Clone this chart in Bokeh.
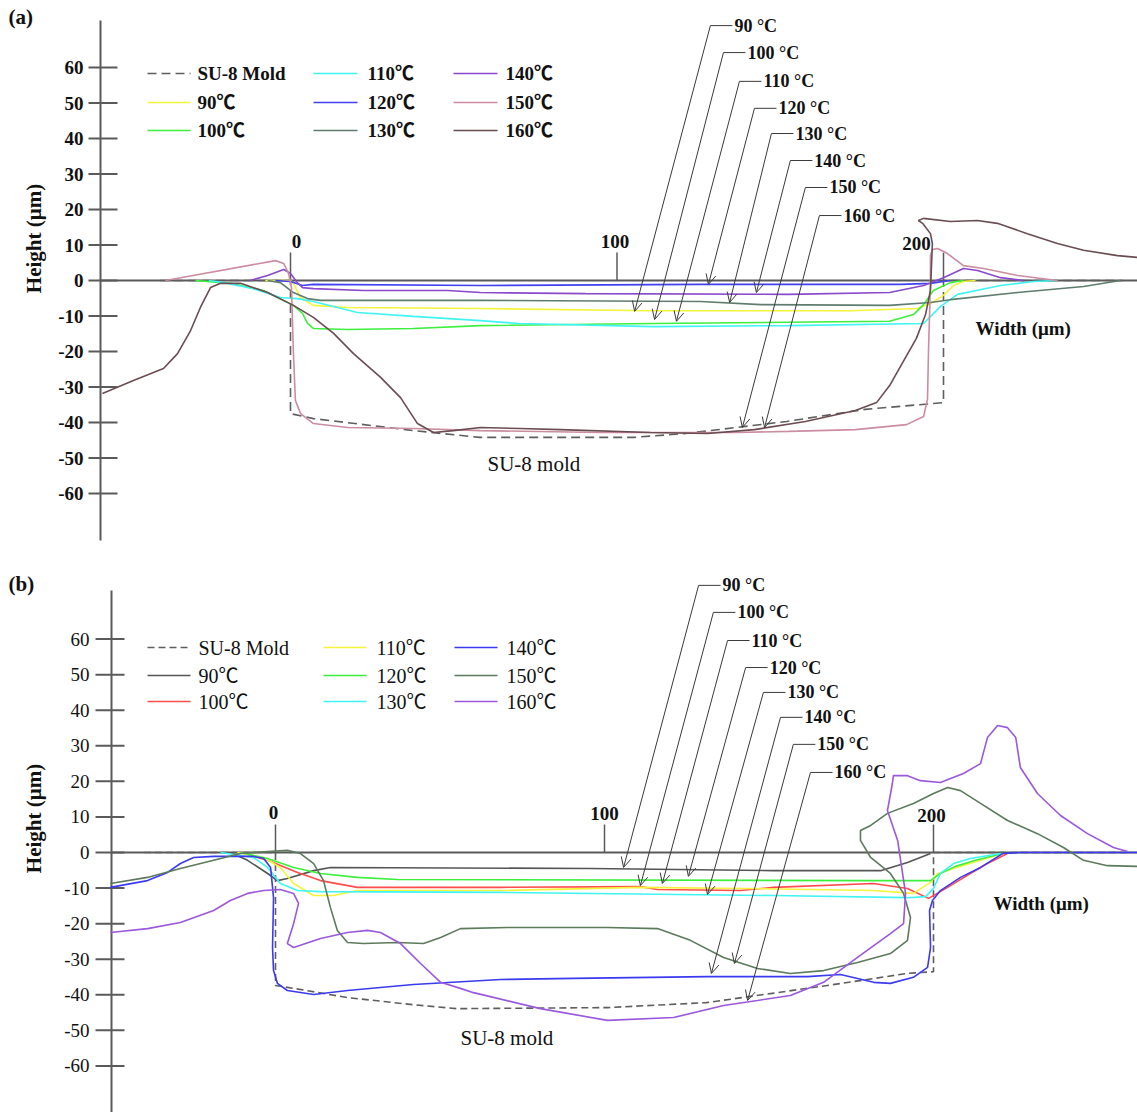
import math
from bokeh.plotting import figure
from bokeh.layouts import column
from bokeh.models import Arrow, OpenHead, ColumnDataSource, Range1d
from bokeh.core.properties import value
from bokeh.embed import file_html
from bokeh.resources import INLINE

# ---------------- DATA : panel (a) ----------------
TEMPS = ["90", "100", "110", "120", "130", "140", "150", "160"]
Y_TICKS = [60, 50, 40, 30, 20, 10, 0, -10, -20, -30, -40, -50, -60]
Y_TICK_LABELS = ["60", "50", "40", "30", "20", "10", "0", "-10", "-20", "-30", "-40", "-50", "-60"]
X_TICKS = [0, 100, 200]
X_TICK_LABELS = ["0", "100", "200"]

A_MOLD_X = [-40, 0, 0, 7, 38, 58, 105, 121, 152, 176, 200, 200, 255]
A_MOLD_Y = [0, 0, -37.5, -38.9, -42.3, -44.2, -44.2, -43.1, -39.7, -36.3, -34.4, 0, 0]

A_90_X = [-7.7, 0, 0.9, 3.1, 7.0, 17.5, 58.2, 110.3, 171.5, 192.0, 196.0, 200, 203.1, 206.1, 209.8]
A_90_Y = [0, 0, -0.8, -4.8, -7.0, -7.6, -7.9, -8.5, -8.5, -7.9, -6.5, -4.2, -1.4, -0.3, 0]

A_100_X = [-29.1, -18.4, -8.3, 0.9, 3.7, 5.2, 7.0, 17.5, 37.7, 58.2, 111.2, 183.5, 190.8, 193.9, 196.9, 202.1, 206.1]
A_100_Y = [0, -0.8, -2.8, -7.0, -9.3, -12.1, -13.5, -13.8, -13.5, -12.7, -12.1, -11.5, -9.6, -6.8, -2.8, -0.6, 0]

A_110_X = [-25, -20.5, -11.3, -3.1, 2.1, 7.0, 20.5, 37.7, 58.2, 69.8, 111.2, 152.5, 193.9, 199.1, 204.3, 217.5, 227.6, 234.9]
A_110_Y = [0, -0.6, -2.3, -4.8, -5.1, -5.9, -9.0, -10.1, -11.3, -12.1, -13.0, -12.7, -12.1, -7.3, -3.9, -1.4, -0.3, 0]

A_120_X = [-4.6, 0, 3.7, 7.0, 58.2, 125.6, 186.8, 196.0, 202.1]
A_120_Y = [0, -0.3, -1.4, -1.1, -1.4, -1.1, -1.1, -0.8, 0]

A_130_X = [-7.0, -3.1, 0.9, 5.2, 9.2, 58.2, 125.6, 144, 183.5, 196.0, 202.1, 222.7, 242.9, 254.2]
A_130_Y = [0, -0.6, -3.4, -5.1, -5.6, -5.6, -5.9, -6.8, -7.0, -6.2, -5.4, -3.4, -1.7, 0]

A_140_X = [-12.3, -7.0, -2.1, 0, 2.1, 3.7, 7.0, 22.4, 48.1, 58.2, 90.4, 152.5, 183.5, 193.9, 200, 206.1, 210.4, 217.5, 224.5]
A_140_Y = [0, 1.4, 3.1, 2.0, -0.6, -2.0, -2.3, -2.8, -2.8, -3.4, -3.7, -3.9, -3.4, -1.4, 0.8, 3.4, 2.8, 0.8, 0]

A_150_X = [-38.3, -4.6, -2.1, -0.6, 0.3, 0.9, 1.5, 3.1, 7.0, 17.5, 37.7, 58.2, 94.9, 136.9, 152.5, 173.0, 188.7,
           193.9, 195.1, 195.4, 196.0, 196.0, 196.6, 198.2, 201.2, 206.1, 212.3, 222.7, 234.9]
A_150_Y = [0, 5.6, 4.8, 2.0, -2.0, -20.6, -33.8, -37.5, -40.3, -41.4, -41.7, -42.3, -42.8, -42.8, -42.5, -42.0, -40.6,
           -38.3, -33.5, -20.0, -1.1, 7.0, 8.7, 9.0, 7.6, 4.2, 3.4, 1.4, 0]

A_160_X = [-57.6, -48.1, -38.9, -34.6, -30.6, -27.6, -24.5, -21.4, -15.3, -7.0, 0.9, 7.0, 13.2, 19.3, 27.6, 33.7,
           38.9, 43.8, 49.9, 58.2, 70.4, 82.7, 110.3, 127.7, 142.1, 157.7, 173.0, 179.5, 183.5, 187.7, 191.7, 194.5,
           196.0, 196.3, 196.6, 196.0, 193.6, 192.3, 193.9, 202.1, 210.4, 216.5, 225.7, 234.9, 242.9, 253.3, 259.4]
A_160_Y = [-31.8, -28.2, -24.8, -20.6, -14.1, -7.6, -2.0, -0.8, -0.8, -3.4, -7.0, -10.4, -14.9, -20.6, -27.3, -33.0,
           -40.3, -42.8, -42.3, -41.4, -41.7, -42.0, -42.8, -43.1, -42.0, -39.7, -36.6, -34.4, -29.6, -22.8, -16.3, -9.6,
           -2.8, 3.7, 10.4, 13.2, 16.1, 16.9, 17.5, 16.6, 16.9, 16.1, 13.2, 10.4, 8.5, 7.0, 6.5]

A_ANN_X0 = [128.6, 132.6, 137.5, 142.1, 147.3, 153.1, 157.7, 162.0]
A_ANN_Y0 = [71.8, 64.2, 56.1, 48.5, 41.4, 33.8, 26.2, 18.3]
A_ANN_X1 = [105.4, 111.5, 118.2, 128.0, 134.5, 142.7, 138.4, 145.2]
A_ANN_Y1 = [-8.7, -11.0, -11.5, -1.1, -6.2, -3.4, -41.4, -41.4]

# ---------------- DATA : panel (b) ----------------
B_MOLD_X = [-40, 0, 0, 5.5, 22, 42, 55, 101, 131, 151, 172, 192, 200, 200, 260]
B_MOLD_Y = [0, 0, -37.4, -38.2, -40.8, -42.8, -43.9, -43.6, -42.2, -39.6, -36.8, -34.0, -33.5, 0, 0]

B_90_X = [-13.7, -8.5, -2.4, 0.6, 3.6, 11.6, 16.7, 95.7, 151.4, 183.9, 192.1, 199.1]
B_90_Y = [0, -2.2, -5.9, -7.9, -7.3, -5.1, -4.2, -4.5, -5.1, -5.1, -2.8, -0.3]

B_100_X = [-10.6, -2.4, 6.7, 13.7, 24.9, 68.4, 110.9, 116.1, 141.3, 151.4, 181.8, 192.1, 198.5, 204.3, 211.2, 216.4, 222.5]
B_100_Y = [0, -2.2, -5.6, -7.9, -9.8, -9.8, -9.6, -10.4, -10.7, -9.8, -8.7, -10.1, -12.9, -9.8, -5.9, -3.1, -0.3]

B_110_X = [-11.6, -3.6, 1.5, 5.5, 11.6, 17.6, 24.9, 68.4, 110.9, 141.3, 181.8, 193.9, 199.1, 201.2, 206.1, 214.3, 221.0]
B_110_Y = [0, -1.4, -4.2, -8.7, -12.1, -12.1, -10.7, -10.7, -9.8, -10.1, -10.7, -11.5, -8.4, -5.9, -4.5, -2.2, -0.3]

B_120_X = [-10.6, -2.4, 5.5, 13.7, 24.9, 37.1, 181.8, 199.1, 202.1, 206.7, 212.8, 221.0]
B_120_Y = [0, -1.7, -4.2, -5.9, -7.0, -7.6, -7.9, -7.9, -5.9, -3.9, -2.2, -0.3]

B_130_X = [-16.7, -6.7, -2.4, 1.5, 6.7, 13.7, 68.4, 151.4, 192.1, 197.6, 200, 202.1, 206.1, 211.2, 220.4]
B_130_Y = [0, -1.4, -4.2, -8.7, -10.7, -11.0, -11.2, -12.1, -12.7, -12.4, -10.1, -5.9, -3.1, -1.7, -0.3]

B_140_X = [-50.2, -38.9, -32.8, -28.9, -24.9, -18.8, -6.7, -3.6, -1.5, -0.6, -0.9, -0.6, 0.6, 3.6, 11.6, 21.9, 41.9,
           68.4, 90.6, 131.3, 161.7, 171.7, 181.8, 186.9, 193.9, 198.2, 199.1, 198.8, 199.7, 202.1, 208.2, 214.3,
           221.0, 226.4, 262]
B_140_Y = [-9.8, -7.9, -5.6, -3.1, -1.4, -1.1, -1.1, -1.7, -4.2, -12.7, -26.7, -33.2, -36.8, -38.8, -39.9, -38.8, -37.1,
           -35.7, -35.4, -34.9, -34.9, -34.3, -36.5, -36.8, -35.1, -32.3, -26.7, -16.3, -13.5, -10.7, -7.0, -4.2,
           -0.3, 0, 0]

B_150_X = [-50.2, -38.9, -28.9, -18.8, -10.6, -2.4, 3.6, 7.6, 11.6, 14.6, 16.7, 18.8, 21.9, 26.7, 37.1, 45.0, 50.2,
           56.2, 70.5, 100.9, 116.1, 126.1, 136.2, 146.5, 156.5, 166.6, 176.9, 186.9, 192.1, 193.0, 190.9, 186.9,
           180.9, 177.8, 177.8, 180.9, 186.0, 193.9, 200.0, 204.3, 208.2, 214.3, 222.5, 231.6, 239.5, 245.6, 252.9, 262.0]
B_150_Y = [-8.7, -7.0, -4.5, -2.2, -0.3, 0.3, 0.6, -0.3, -3.1, -7.9, -15.5, -21.9, -25.3, -25.6, -25.3, -25.6, -23.9,
           -21.4, -21.1, -21.1, -21.4, -24.7, -29.5, -32.6, -34.0, -33.2, -30.9, -28.4, -24.7, -18.3, -11.5, -5.9,
           -1.4, 3.4, 6.2, 7.6, 11.0, 13.8, 16.6, 18.3, 17.4, 13.8, 9.0, 5.3, 1.4, -2.2, -3.7, -3.9]

B_160_X = [-50.2, -38.9, -28.9, -18.8, -13.7, -8.5, -3.6, 1.5, 5.5, 7.0, 5.5, 3.6, 5.5, 13.7, 21.9, 28.0, 31.9, 38.0,
           44.1, 50.2, 56.2, 60.2, 80.5, 100.9, 121.0, 136.2, 146.5, 156.5, 166.6, 176.9, 186.9, 190.9, 191.5, 189.1,
           186.0, 187.5, 187.8, 192.1, 196.0, 202.1, 209.1, 214.3, 216.4, 219.5, 222.5, 225.0, 226.4, 231.6, 238.6,
           246.8, 254.7, 259.0]
B_160_Y = [-22.5, -21.4, -19.7, -16.3, -13.5, -11.5, -10.7, -10.4, -11.5, -14.3, -20.0, -25.6, -26.7, -24.2, -22.5,
           -21.9, -22.5, -25.6, -31.2, -36.5, -38.2, -39.4, -43.9, -47.2, -46.4, -43.0, -41.6, -40.2, -36.5, -29.5,
           -22.8, -20.0, -11.5, 3.4, 11.8, 19.4, 21.6, 21.6, 20.2, 19.7, 22.2, 25.0, 32.3, 35.7, 35.1, 32.3, 23.9,
           16.6, 10.4, 5.3, 1.4, 0.3]

B_ANN_X0 = [128.6, 133.1, 137.4, 142.9, 148.3, 153.5, 157.4, 162.6]
B_ANN_Y0 = [75.1, 67.5, 59.6, 52.0, 45.0, 38.0, 30.4, 22.5]
B_ANN_X1 = [105.8, 110.9, 117.6, 125.5, 131.3, 132.5, 139.5, 143.5]
B_ANN_Y1 = [-4.2, -9.3, -8.7, -6.7, -11.8, -34.0, -31.2, -41.6]

# ---------------- STYLE ----------------
SERIF = "Liberation Serif, Noto Sans CJK SC"
AXIS_COL = "#5a5a5a"
ARROW_COL = "#3a3a3a"
MOLD_COL = "#5e5e5e"

A_COLORS = ["#f4f43a", "#3cf03c", "#40f4f4", "#4040f0", "#5f7d6e", "#8a48cc", "#cc8da0", "#6a4c52"]
B_COLORS = ["#555555", "#ff4c4c", "#f4f43a", "#3cf03c", "#40f4f4", "#3a3af0", "#5c7a5c", "#9a58dc"]

PA = dict(x0=290, sx=3.265, y0=280, sy=3.55, top=0,
          axis_px=100, axis_top=20, axis_bot=540, tick_l=88, tick_r=117, lab_r=83,
          tick_font="bold", tick_size="19px",
          xlab_off=[(6, -39), (-2, -39), (-27, -37)],
          panel="(a)", panel_pos=(8, 16), ylab_pos=(33, 238), wlab_pos=(975, 328), sulab_pos=(487, 463),
          leg_rows=[73, 102, 130], leg_lines=[(147, 190), (313, 357), (453, 497)], leg_text=[197, 367, 505],
          leg_font="bold", leg_size="19px", mold_dash="9 5")
PB = dict(x0=275, sx=3.29, y0=852, sy=3.557, top=556,
          axis_px=111, axis_top=590, axis_bot=1112, tick_l=95, tick_r=124, lab_r=89,
          tick_font="normal", tick_size="19px",
          xlab_off=[(-2, -40), (0, -39), (-2, -37)],
          panel="(b)", panel_pos=(8, 583), ylab_pos=(33, 818), wlab_pos=(993, 903), sulab_pos=(460, 1037),
          leg_rows=[647, 675, 701], leg_lines=[(147, 190), (323, 366), (454, 497)], leg_text=[198, 376, 506],
          leg_font="normal", leg_size="20px", mold_dash="7 4")


def dx(P, px):
    return (px - P["x0"]) / P["sx"]


def dy(P, py):
    return (P["y0"] - py) / P["sy"]


def build(P, series, colors, mold, ann):
    p = figure(width=1137, height=556,
               x_range=Range1d(dx(P, 0), dx(P, 1137)),
               y_range=Range1d(dy(P, P["top"] + 556), dy(P, P["top"])),
               output_backend="svg", toolbar_location=None,
               x_axis_location=None, y_axis_location=None, min_border=0)
    p.grid.visible = False
    p.outline_line_color = None

    # y axis
    ax = dx(P, P["axis_px"])
    p.segment(x0=[ax], y0=[dy(P, P["axis_top"])], x1=[ax], y1=[dy(P, P["axis_bot"])],
              line_color=AXIS_COL, line_width=2)
    p.segment(x0=[dx(P, P["tick_l"])] * len(Y_TICKS), y0=Y_TICKS,
              x1=[dx(P, P["tick_r"])] * len(Y_TICKS), y1=Y_TICKS, line_color=AXIS_COL, line_width=2)
    p.text(x=[dx(P, P["lab_r"])] * len(Y_TICKS), y=Y_TICKS, text=Y_TICK_LABELS,
           text_font=value(SERIF), text_font_style=P["tick_font"], text_font_size=P["tick_size"],
           text_align="right", text_baseline="middle", text_color="#111")
    # x (zero) axis
    p.segment(x0=[ax], y0=[0], x1=[dx(P, 1137)], y1=[0], line_color=AXIS_COL, line_width=2)
    tick_h = 28 / P["sy"]
    p.segment(x0=X_TICKS, y0=[0] * 3, x1=X_TICKS, y1=[tick_h] * 3, line_color=AXIS_COL, line_width=1.5)
    p.text(x=[t + o[0] / P["sx"] for t, o in zip(X_TICKS, P["xlab_off"])],
           y=[-o[1] / P["sy"] for o in P["xlab_off"]], text=X_TICK_LABELS,
           text_font=value(SERIF), text_font_style="bold", text_font_size="19px",
           text_align="center", text_baseline="middle", text_color="#111")

    # mold
    p.line(mold[0], mold[1], line_color=MOLD_COL, line_width=1.6, line_dash=P["mold_dash"])
    # series
    for (xs, ys), c in zip(series, colors):
        p.line(xs, ys, line_color=c, line_width=1.6)

    # annotation arrows
    x0s, y0s, x1s, y1s = ann
    src = ColumnDataSource(dict(x0=x0s, y0=y0s, x1=x1s, y1=y1s))
    p.add_layout(Arrow(end=OpenHead(size=10, line_color=ARROW_COL, line_width=1),
                       x_start="x0", y_start="y0", x_end="x1", y_end="y1", source=src,
                       line_color=ARROW_COL, line_width=1))
    lead = 22 / P["sx"]
    p.segment(x0=x0s, y0=y0s, x1=[x + lead for x in x0s], y1=y0s, line_color=ARROW_COL, line_width=1)
    p.text(x=[x + lead + 2 / P["sx"] for x in x0s], y=y0s, text=[t + " °C" for t in TEMPS],
           text_font=value(SERIF), text_font_style="bold", text_font_size="18px",
           text_align="left", text_baseline="middle", text_color="#111")

    # legend
    names = ["SU-8 Mold"] + [t + "℃" for t in TEMPS]
    cols = [MOLD_COL] + colors
    for i, (nm, c) in enumerate(zip(names, cols)):
        ci, ri = divmod(i, 3)
        yy = dy(P, P["leg_rows"][ri])
        l0, l1 = P["leg_lines"][ci]
        if i == 0:
            p.line([dx(P, l0), dx(P, l1)], [yy, yy], line_color=c, line_width=1.6, line_dash=P["mold_dash"])
        else:
            p.line([dx(P, l0), dx(P, l1)], [yy, yy], line_color=c, line_width=1.6)
        p.text(x=[dx(P, P["leg_text"][ci])], y=[yy], text=[nm], text_font=value(SERIF),
               text_font_style=P["leg_font"], text_font_size=P["leg_size"],
               text_align="left", text_baseline="middle", text_color="#111")

    # labels
    px_, py_ = P["panel_pos"]
    p.text(x=[dx(P, px_)], y=[dy(P, py_)], text=[P["panel"]], text_font=value(SERIF), text_font_style="bold",
           text_font_size="21px", text_align="left", text_baseline="middle", text_color="#111")
    px_, py_ = P["ylab_pos"]
    p.text(x=[dx(P, px_)], y=[dy(P, py_)], text=["Height (μm)"], text_font=value(SERIF), text_font_style="bold",
           text_font_size="21px", text_align="center", text_baseline="middle", angle=math.pi / 2,
           text_color="#111")
    px_, py_ = P["wlab_pos"]
    p.text(x=[dx(P, px_)], y=[dy(P, py_)], text=["Width (μm)"], text_font=value(SERIF), text_font_style="bold",
           text_font_size="19px", text_align="left", text_baseline="middle", text_color="#111")
    px_, py_ = P["sulab_pos"]
    p.text(x=[dx(P, px_)], y=[dy(P, py_)], text=["SU-8 mold"], text_font=value(SERIF), text_font_style="normal",
           text_font_size="21px", text_align="left", text_baseline="middle", text_color="#111")
    return p


A_SERIES = [(A_90_X, A_90_Y), (A_100_X, A_100_Y), (A_110_X, A_110_Y), (A_120_X, A_120_Y),
            (A_130_X, A_130_Y), (A_140_X, A_140_Y), (A_150_X, A_150_Y), (A_160_X, A_160_Y)]
B_SERIES = [(B_90_X, B_90_Y), (B_100_X, B_100_Y), (B_110_X, B_110_Y), (B_120_X, B_120_Y),
            (B_130_X, B_130_Y), (B_140_X, B_140_Y), (B_150_X, B_150_Y), (B_160_X, B_160_Y)]

pa = build(PA, A_SERIES, A_COLORS, (A_MOLD_X, A_MOLD_Y), (A_ANN_X0, A_ANN_Y0, A_ANN_X1, A_ANN_Y1))
pb = build(PB, B_SERIES, B_COLORS, (B_MOLD_X, B_MOLD_Y), (B_ANN_X0, B_ANN_Y0, B_ANN_X1, B_ANN_Y1))

layout = column(pa, pb, spacing=0)
open("out.html", "w").write(file_html(layout, INLINE))
